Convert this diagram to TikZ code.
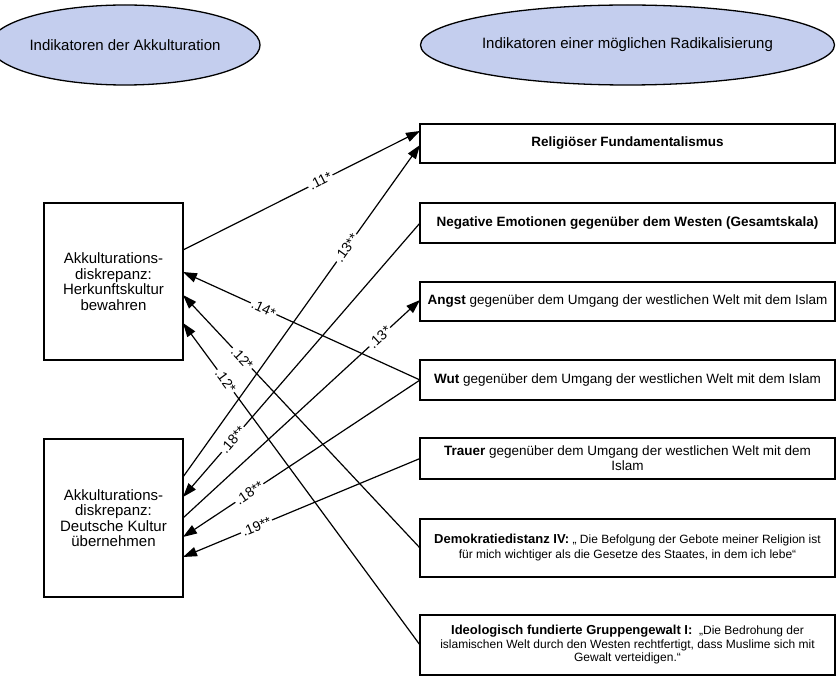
\documentclass[tikz,border=0pt]{standalone}
\usepackage{fontspec}
\setmainfont{Liberation Sans}
\usetikzlibrary{arrows.meta,shapes.geometric}
\definecolor{ellfill}{RGB}{196,206,238}
\begin{document}
\begin{tikzpicture}[x=1pt,y=-1pt,
  ell/.style={ellipse,draw,line width=1.3pt,fill=ellfill,inner sep=0pt,outer sep=0pt,font=\fontsize{15}{17}\selectfont},
  lbox/.style={draw,line width=1.4pt,inner sep=0pt,outer sep=0pt,minimum width=139pt,minimum height=157pt,align=center,font=\fontsize{15}{15.5}\selectfont},
  rbox/.style={draw,line width=1.4pt,inner sep=0pt,outer sep=0pt,minimum width=415pt,align=center,font=\fontsize{13.5}{15}\selectfont},
  conn/.style={line width=1.2pt,-{Triangle[length=14pt,width=9.5pt]}},
  coef/.style={sloped,fill=white,inner sep=1.5pt,font=\fontsize{14}{14}\selectfont}
]
\useasboundingbox (0,0) rectangle (836,676);

\node[ell,minimum width=236pt,minimum height=80pt] (eL) at (125,45) {Indikatoren der Akkulturation};
\node[ell,minimum width=414pt,minimum height=80pt] (eR) at (627.5,45) {Indikatoren einer möglichen Radikalisierung};

\node[lbox] (L1) at (113.5,281.5) {Akkulturations-\\diskrepanz:\\Herkunftskultur\\bewahren};
\node[lbox,minimum height=158pt] (L2) at (113.5,518) {Akkulturations-\\diskrepanz:\\Deutsche Kultur\\übernehmen};

\node[rbox,minimum height=39pt] (R1) at (627.5,143.5) {\textbf{Religiöser Fundamentalismus}};
\node[rbox,minimum height=40pt] (R2) at (627.5,223) {\textbf{Negative Emotionen gegenüber dem Westen (Gesamtskala)}};
\node[rbox,minimum height=39pt] (R3) at (627.5,301.5) {\textbf{Angst} gegenüber dem Umgang der westlichen Welt mit dem Islam};
\node[rbox,minimum height=40pt] (R4) at (627.5,380) {\textbf{Wut} gegenüber dem Umgang der westlichen Welt mit dem Islam};
\node[rbox,minimum height=41pt] (R5) at (627.5,458.5) {\textbf{Trauer} gegenüber dem Umgang der westlichen Welt mit dem\\Islam};
\node[rbox,minimum height=58pt,font=\fontsize{12}{15}\selectfont] (R6) at (627.5,548) {{\fontsize{13}{15}\selectfont\bfseries Demokratiedistanz IV:} „ Die Befolgung der Gebote meiner Religion ist\\für mich wichtiger als die Gesetze des Staates, in dem ich lebe“};
\node[rbox,minimum height=60pt,font=\fontsize{12}{13.5}\selectfont] (R7) at (627.5,645) {{\fontsize{13}{13.5}\selectfont\bfseries Ideologisch fundierte Gruppengewalt I:}\ \ „Die Bedrohung der\\islamischen Welt durch den Westen rechtfertigt, dass Muslime sich mit\\Gewalt verteidigen.“};

\draw[conn] (L1.east |- 0,250) -- node[coef,pos=0.58]{.11*} (R1.west |- 0,131);
\draw[conn] (L2.east |- 0,477) -- node[coef,pos=0.69]{.13**} (R1.west |- 0,145);
\draw[conn] (R2.west) -- node[coef,pos=0.79]{.18**} (L2.east |- 0,497);
\draw[conn] (L2.east |- 0,518) -- node[coef,pos=0.83]{.13*} (R3.west |- 0,300);
\draw[conn] (R4.west) -- node[coef,pos=0.66]{.14*} (L1.east |- 0,272);
\draw[conn] (R4.west) -- node[coef,pos=0.72]{.18**} (L2.east |- 0,537);
\draw[conn] (R5.west) -- node[coef,pos=0.69]{.19**} (L2.east |- 0,557);
\draw[conn] (R6.west) -- node[coef,pos=0.75]{.12*} (L1.east |- 0,295);
\draw[conn] (R7.west) -- node[coef,pos=0.82]{.12*} (L1.east |- 0,323);
\end{tikzpicture}
\end{document}
